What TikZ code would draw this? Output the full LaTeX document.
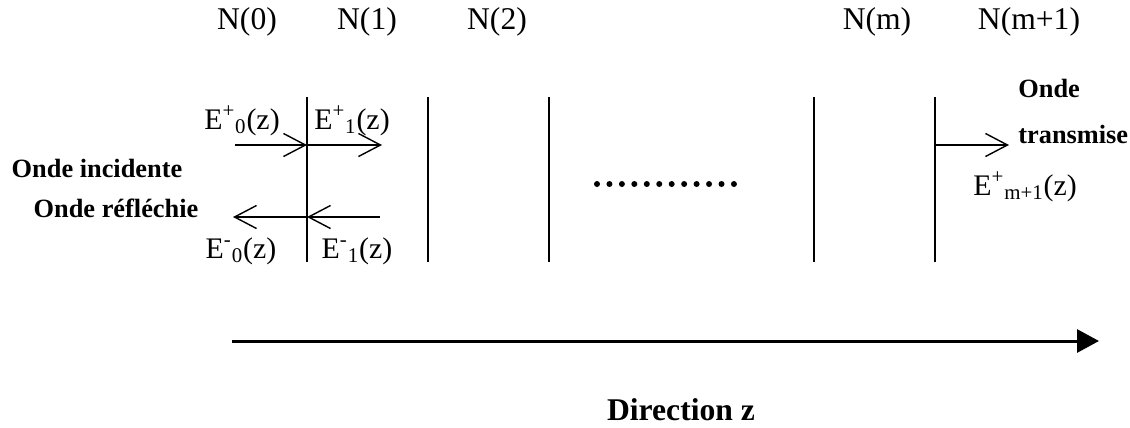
\documentclass[tikz,border=0pt]{standalone}
\usepackage{fontspec}
\setmainfont{Liberation Serif}
\usetikzlibrary{arrows.meta}

\begin{document}
\begin{tikzpicture}[x=0.02cm, y=-0.02cm,
    layer/.style={line width=1.2pt},
    wave/.style={-{Straight Barb[length=0.44cm,width=0.46cm]}, line width=0.8pt},
    axis/.style={-{Triangle[length=0.44cm,width=0.46cm]}, line width=1.7pt},
    idx/.style={anchor=base, inner sep=0pt, font=\fontsize{18}{20}\selectfont},
    field/.style={anchor=base, inner sep=0pt, font=\fontsize{17}{19}\selectfont},
    note/.style={anchor=base, inner sep=0pt, font=\fontsize{15}{17}\selectfont\bfseries}]

    \useasboundingbox (0,0) rectangle (1130,427);

    % interfaces
    \foreach \n/\x in {0/307, 1/428, 2/549, m/814, m1/935} {
        \coordinate (top\n) at (\x,97);
        \coordinate (bot\n) at (\x,262);
        \draw[layer] (top\n) -- (bot\n);
    }

    \node[idx] (n0) at (247,29) {N(0)};
    \node[idx] (n1) at (367,29) {N(1)};
    \node[idx] (n2) at (497,29) {N(2)};
    \node[idx] (nm) at (877,29) {N(m)};
    \node[idx] (nm1) at (1029,29) {N(m+1)};

    % waves
    \coordinate (inc) at (235,145);
    \coordinate (hitp) at (307,145);
    \coordinate (outp) at (382,145);
    \coordinate (inm) at (380,217);
    \coordinate (hitm) at (307,217);
    \coordinate (refl) at (233,217);
    \coordinate (hitt) at (935,145);
    \coordinate (trans) at (1009,145);

    \draw[wave] (inc) -- (hitp);
    \draw[wave] (hitp) -- (outp);
    \draw[wave] (inm) -- (hitm);
    \draw[wave] (hitm) -- (refl);
    \draw[wave] (hitt) -- (trans);

    \node[field] (e0p) at (242,129) {E\textsuperscript{+}\textsubscript{0}(z)};
    \node[field] (e1p) at (352,129) {E\textsuperscript{+}\textsubscript{1}(z)};
    \node[field] (e0m) at (241,258) {E\textsuperscript{-}\textsubscript{0}(z)};
    \node[field] (e1m) at (357,258) {E\textsuperscript{-}\textsubscript{1}(z)};
    \node[field, anchor=base west] (etr) at (973,195) {E\textsuperscript{+}\textsubscript{m+1}(z)};

    \node[note] (incid) at (97,177) {Onde incidente};
    \node[note] (reflec) at (116,217) {Onde réfléchie};
    \node[note, anchor=base west] (onde) at (1018,97) {Onde};
    \node[note, anchor=base west] (transm) at (1018,143) {transmise};

    % layers in between
    \foreach \i in {0,...,11}
        \fill (597+12.45*\i,184) circle[radius=0.06cm];

    % propagation axis
    \coordinate (zs) at (232,341);
    \coordinate (ze) at (1099,341);
    \draw[axis] (zs) -- (ze);
    \node[idx, font=\fontsize{18}{20}\selectfont\bfseries] (dir) at (681,420) {Direction z};
\end{tikzpicture}
\end{document}
